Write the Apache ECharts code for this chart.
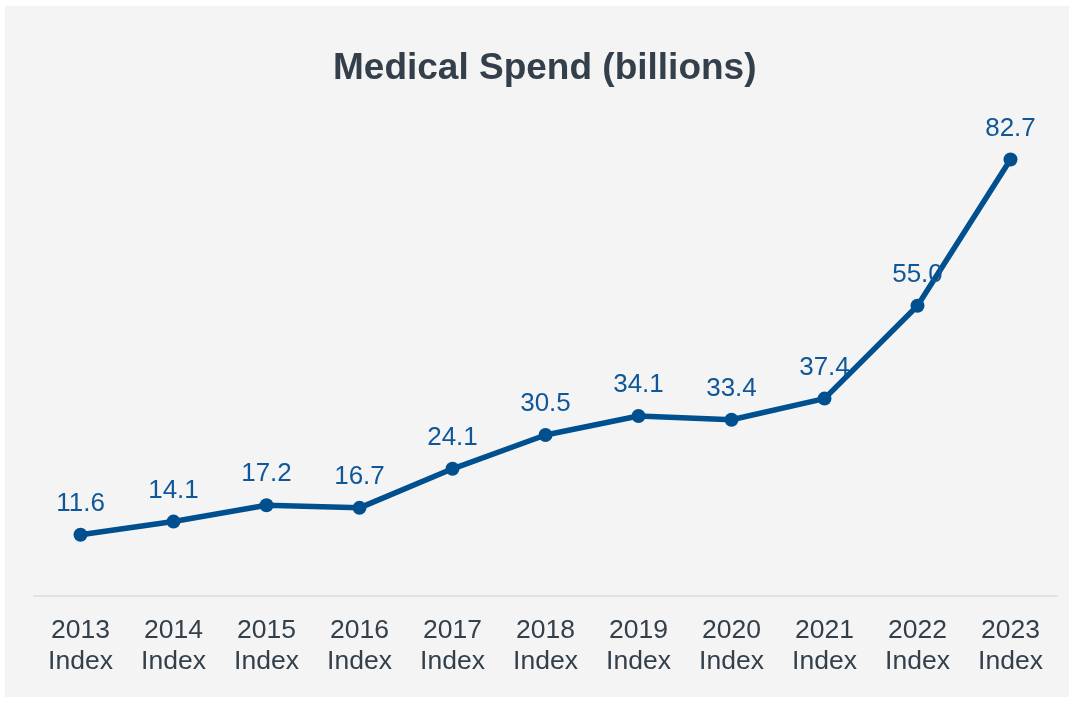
<!DOCTYPE html>
<html>
<head>
<meta charset="utf-8">
<style>
  html, body { margin: 0; padding: 0; background: #ffffff; }
  #chart { width: 1076px; height: 701px; }
</style>
<script src="https://cdn.jsdelivr.net/npm/echarts@6/dist/echarts.min.js"></script>
</head>
<body>
<div id="chart"></div>
<script>
// Yearly index categories and medical spend in billions
const years = ['2013', '2014', '2015', '2016', '2017', '2018', '2019', '2020', '2021', '2022', '2023'];
const categoryLabels = years.map(y => y + '\nIndex');
const spend = [11.6, 14.1, 17.2, 16.7, 24.1, 30.5, 34.1, 33.4, 37.4, 55.0, 82.7];

const lineBlue = '#00508f';
const labelBlue = '#0f5798';
const textDark = '#333f4a';
const font = '"Liberation Sans", Arial, sans-serif';

const chart = echarts.init(document.getElementById('chart'));
chart.setOption({
  backgroundColor: '#ffffff',
  animation: false,
  graphic: [{
    type: 'rect',
    z: -100,
    silent: true,
    shape: { x: 5, y: 6, width: 1064, height: 691 },
    style: { fill: '#f4f4f4' }
  }],
  title: {
    text: 'Medical Spend (billions)',
    left: 328,
    top: 45,
    textStyle: { fontFamily: font, fontSize: 37, fontWeight: 'bold', color: textDark }
  },
  grid: { left: 34, right: 19, top: 121, bottom: 105, containLabel: false },
  xAxis: {
    type: 'category',
    data: categoryLabels,
    boundaryGap: true,
    axisLine: { lineStyle: { color: '#dfe2e6', width: 2 } },
    axisTick: { show: false },
    axisLabel: {
      margin: 19,
      fontFamily: font,
      fontSize: 26.5,
      lineHeight: 31,
      color: textDark,
      interval: 0
    }
  },
  yAxis: {
    type: 'value',
    min: 0,
    max: 90,
    show: false,
    splitLine: { show: false }
  },
  series: [{
    type: 'line',
    data: spend,
    symbol: 'circle',
    symbolSize: 14,
    lineStyle: { color: lineBlue, width: 5.5 },
    itemStyle: { color: lineBlue },
    label: {
      show: true,
      position: 'top',
      distance: 11,
      fontFamily: font,
      fontSize: 26,
      color: labelBlue,
      formatter: p => p.value.toFixed(1)
    }
  }]
});
</script>
</body>
</html>
